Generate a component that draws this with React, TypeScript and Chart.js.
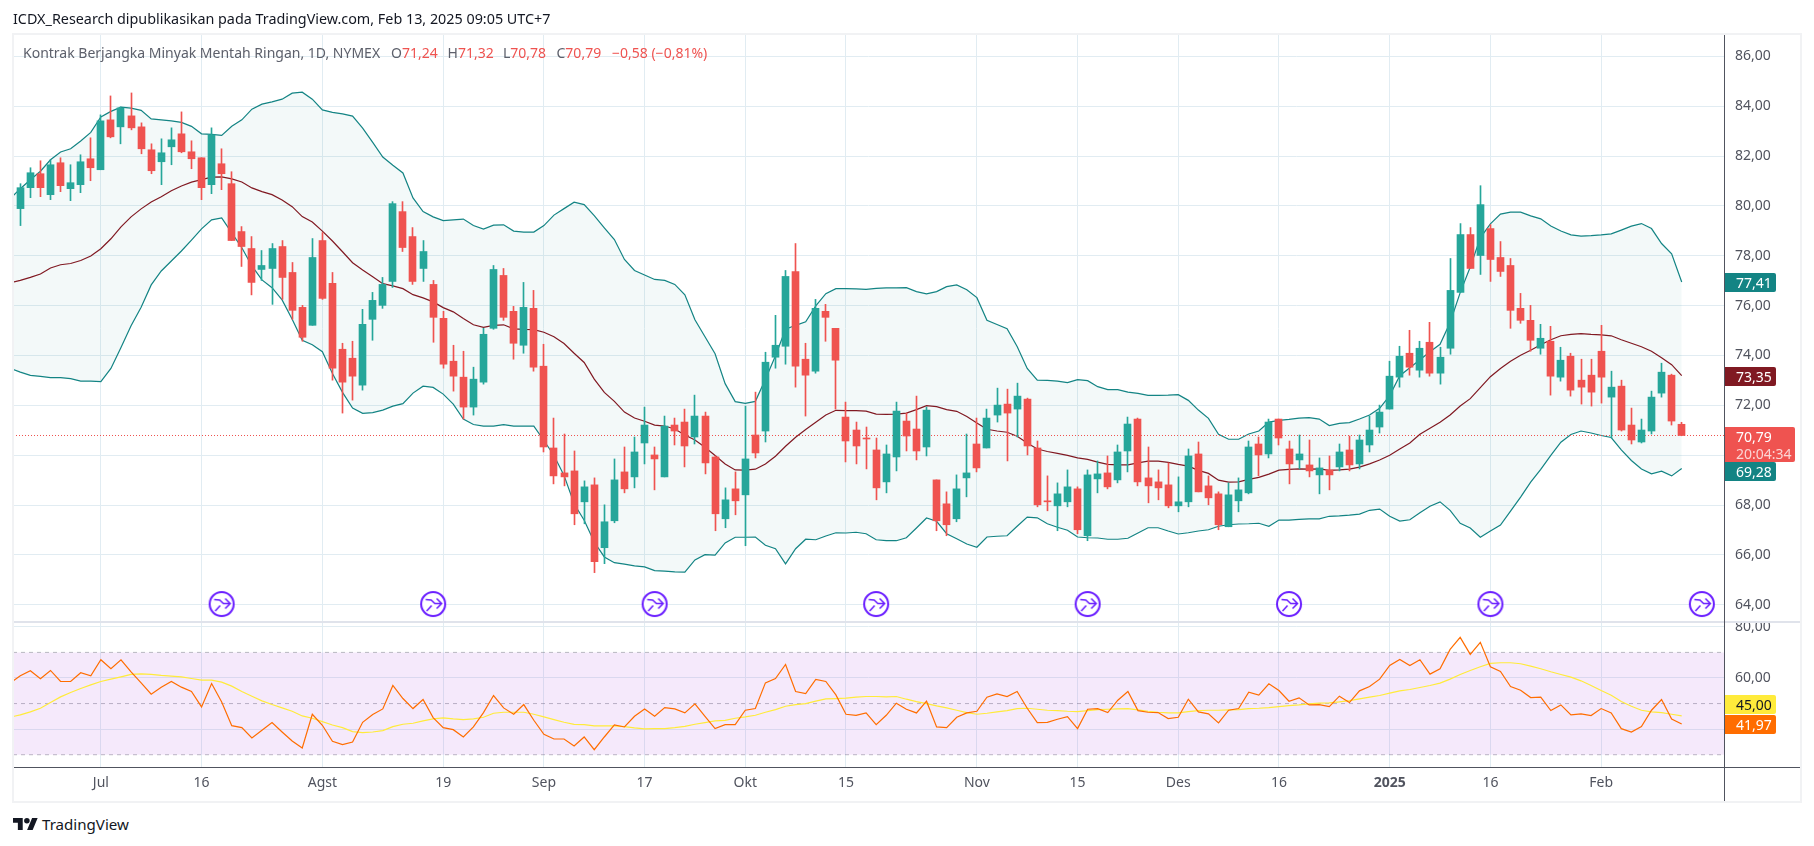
import { useEffect, useRef } from "react";
import { Chart, Plugin, registerables } from "chart.js";

Chart.register(...registerables);

const FONT = '"Noto Sans", sans-serif';
const GREEN = "#26a69a";
const RED = "#ef5350";
const GRID = "#e1ecf2";
const AXIS = "#50535e";
const TEXT = "#50535e";

// daily candles, index 0 is the first bar on screen
const opens = [
  79.89, 80.73, 81.29, 80.45, 81.73, 80.69, 80.85, 81.89, 81.45, 83.45,
  83.17, 83.61, 83.17, 82.25, 81.77, 82.37, 82.89, 82.17, 81.93, 80.85,
  81.69, 80.89, 78.97, 78.29, 77.45, 77.49, 78.37, 77.33, 75.93, 75.21,
  78.61, 76.89, 74.25, 73.89, 72.81, 75.45, 76.01, 76.97, 79.77, 78.77,
  77.49, 76.85, 75.49, 73.77, 73.13, 71.93, 72.93, 75.09, 77.21, 75.77,
  74.41, 75.89, 73.57, 70.29, 69.29, 69.37, 68.13, 68.81, 66.29, 67.37,
  69.33, 69.13, 70.49, 70.01, 69.13, 71.21, 71.33, 70.73, 71.57, 69.93,
  67.45, 68.65, 68.41, 70.81, 70.97, 73.93, 74.37, 77.37, 73.85, 73.37,
  75.77, 75.09, 71.53, 71.01, 70.69, 70.21, 68.93, 69.93, 71.37, 71.05,
  70.33, 69.01, 68.05, 67.45, 69.09, 70.45, 70.29, 71.61, 72.05, 71.85,
  72.25, 70.29, 68.17, 67.97, 68.13, 68.65, 66.77, 69.05, 69.29, 69.01,
  70.17, 71.45, 69.09, 68.93, 68.81, 67.97, 68.13, 70.05, 68.77, 68.45,
  67.13, 68.17, 68.49, 70.45, 70.05, 71.45, 70.25, 69.81, 69.61, 69.21,
  69.41, 69.53, 70.21, 69.65, 70.41, 71.13, 71.85, 73.13, 74.09, 73.41,
  74.53, 73.29, 74.29, 76.53, 78.85, 78.01, 79.09, 77.93, 77.61, 75.89,
  75.41, 74.29, 74.57, 73.13, 73.97, 73.01, 73.21, 74.17, 72.33, 72.77,
  71.21, 70.53, 70.97, 72.49, 73.21, 71.24,
];
const highs = [
  80.89, 81.53, 81.81, 81.85, 81.93, 81.65, 82.05, 82.73, 83.65, 84.41,
  83.97, 84.53, 83.33, 82.49, 82.69, 83.13, 83.77, 82.61, 81.93, 83.13,
  82.29, 81.37, 79.17, 78.77, 78.21, 78.49, 78.61, 77.73, 76.01, 78.69,
  78.93, 77.33, 74.49, 74.57, 75.85, 76.53, 77.13, 80.17, 80.17, 79.13,
  78.61, 77.01, 75.77, 74.41, 74.17, 73.53, 75.09, 77.61, 77.49, 75.97,
  76.93, 76.61, 74.45, 71.49, 70.85, 70.17, 68.97, 69.09, 68.01, 69.85,
  70.33, 70.73, 71.93, 70.33, 71.57, 71.49, 71.85, 72.41, 71.73, 69.97,
  68.69, 69.33, 71.97, 72.53, 74.13, 75.61, 77.41, 78.49, 74.49, 76.25,
  76.05, 75.09, 72.13, 71.33, 71.13, 70.69, 70.41, 72.13, 71.69, 72.37,
  71.93, 69.01, 68.53, 69.21, 70.85, 71.49, 71.85, 72.69, 72.65, 72.89,
  72.29, 70.57, 69.17, 68.89, 69.41, 68.73, 69.41, 69.77, 69.97, 70.41,
  71.53, 71.49, 70.33, 69.41, 69.69, 69.13, 70.25, 70.53, 69.17, 68.53,
  68.89, 69.09, 70.57, 70.73, 71.45, 71.45, 70.57, 70.81, 70.61, 69.89,
  69.97, 70.45, 70.77, 70.81, 71.57, 72.01, 73.77, 74.37, 75.01, 74.57,
  75.33, 74.33, 77.89, 79.29, 79.13, 80.81, 79.25, 78.57, 77.89, 76.49,
  76.01, 75.25, 75.17, 74.33, 74.09, 73.85, 73.85, 75.21, 73.37, 73.01,
  71.89, 71.45, 72.57, 73.69, 73.25, 71.32,
];
const lows = [
  79.21, 80.33, 80.37, 80.25, 80.57, 80.21, 80.53, 81.01, 81.45, 82.73,
  82.49, 83.05, 82.09, 81.29, 80.85, 81.65, 82.13, 81.49, 80.25, 80.49,
  80.65, 78.61, 77.57, 76.43, 77.01, 76.05, 76.25, 75.45, 74.57, 75.21,
  76.25, 73.01, 71.69, 72.21, 72.61, 74.61, 75.89, 76.73, 78.17, 76.85,
  76.97, 74.53, 73.49, 72.57, 71.45, 71.61, 72.85, 75.05, 75.41, 73.85,
  74.09, 73.37, 70.13, 68.85, 68.77, 67.21, 67.25, 65.29, 65.65, 67.29,
  68.49, 68.69, 69.65, 68.61, 69.13, 70.41, 69.53, 70.45, 69.25, 66.97,
  67.09, 67.61, 66.37, 69.89, 70.53, 73.49, 73.65, 72.73, 71.57, 73.29,
  74.57, 71.85, 69.73, 69.65, 69.45, 68.21, 68.49, 69.37, 70.17, 69.81,
  69.97, 66.97, 66.77, 67.33, 68.33, 69.33, 70.29, 71.33, 69.77, 70.73,
  70.01, 67.93, 67.77, 66.97, 67.93, 66.85, 66.57, 68.49, 68.65, 68.89,
  69.33, 68.77, 68.09, 68.21, 67.89, 67.73, 67.93, 68.53, 68.01, 67.01,
  67.13, 67.73, 68.45, 69.17, 69.89, 70.41, 68.85, 69.45, 69.13, 68.45,
  68.61, 69.37, 69.37, 69.45, 70.13, 70.89, 71.85, 72.73, 73.21, 73.13,
  73.17, 72.85, 74.05, 76.53, 77.49, 77.25, 76.97, 77.17, 75.09, 75.29,
  74.17, 74.05, 72.41, 72.97, 72.37, 72.05, 71.97, 72.09, 70.69, 70.97,
  70.45, 70.49, 70.85, 72.33, 71.21, 70.78,
];
const closes = [
  80.73, 81.33, 80.73, 81.65, 80.81, 80.93, 81.77, 81.53, 83.41, 82.77,
  83.93, 83.13, 82.29, 81.41, 82.13, 82.65, 82.17, 81.89, 80.73, 82.85,
  81.29, 78.61, 78.37, 76.93, 77.61, 78.29, 77.13, 75.81, 74.73, 77.93,
  76.29, 73.49, 72.93, 73.17, 75.25, 76.21, 76.85, 80.09, 78.33, 76.97,
  78.17, 75.53, 73.65, 73.17, 71.93, 73.05, 74.85, 77.45, 75.53, 74.49,
  75.93, 73.53, 70.33, 69.17, 69.13, 67.65, 68.73, 65.73, 67.33, 69.01,
  68.65, 70.13, 71.21, 69.85, 71.17, 70.97, 70.37, 71.57, 69.69, 67.65,
  68.21, 68.17, 69.85, 70.09, 73.73, 74.41, 77.17, 73.57, 73.21, 75.89,
  75.53, 73.81, 70.57, 70.37, 70.65, 68.69, 70.05, 71.77, 70.77, 70.17,
  71.81, 67.37, 67.21, 68.65, 69.29, 69.49, 71.49, 72.01, 71.69, 72.37,
  70.37, 68.01, 68.13, 68.45, 68.73, 67.01, 69.21, 69.25, 68.73, 70.13,
  71.25, 68.93, 68.77, 68.69, 67.97, 68.13, 69.97, 68.53, 68.29, 67.21,
  68.41, 68.61, 70.33, 70.01, 71.33, 70.69, 69.65, 70.05, 69.37, 69.49,
  69.21, 70.13, 69.61, 70.61, 71.01, 71.73, 73.17, 73.97, 73.53, 74.29,
  73.29, 73.93, 76.61, 78.85, 77.49, 80.05, 77.85, 77.37, 75.81, 75.41,
  74.61, 74.69, 73.17, 73.81, 72.61, 72.73, 72.53, 73.13, 72.73, 71.01,
  70.61, 71.01, 72.33, 73.33, 71.37, 70.79,
];

// indicator series start one bar earlier (index -1) so they run off the left edge
const bbUpper = [
  80.29, 80.69, 81.05, 81.39, 81.85, 82.16, 82.29, 82.6, 82.95, 83.57, 83.79,
  83.96, 83.92, 83.83, 83.49, 83.45, 83.41, 83.35, 83.19, 82.89, 82.87,
  82.83, 83.19, 83.45, 83.88, 84.08, 84.17, 84.28, 84.52, 84.56, 84.28,
  83.85, 83.75, 83.69, 83.6, 83.12, 82.55, 81.96, 81.63, 81.32, 80.32,
  79.77, 79.56, 79.41, 79.44, 79.47, 79.21, 79.07, 79.23, 79.24, 78.99,
  78.95, 78.95, 79.21, 79.63, 79.89, 80.15, 80.05, 79.61, 79.12, 78.65,
  77.85, 77.41, 77.23, 77.05, 77.01, 76.85, 76.43, 75.43, 74.75, 74.07,
  72.87, 72.15, 72.08, 72.16, 73.05, 73.99, 75.05, 75.21, 75.35, 75.99,
  76.48, 76.68, 76.68, 76.67, 76.65, 76.69, 76.71, 76.71, 76.72, 76.56,
  76.47, 76.56, 76.76, 76.83, 76.64, 76.32, 75.41, 75.24, 75.07, 74.36,
  73.48, 73.01, 73.0, 72.97, 72.91, 73.03, 72.99, 72.75, 72.63, 72.63,
  72.53, 72.48, 72.4, 72.4, 72.41, 72.43, 72.2, 71.81, 71.48, 70.84,
  70.64, 70.64, 70.85, 70.97, 71.33, 71.4, 71.44, 71.49, 71.51, 71.45,
  71.19, 71.28, 71.31, 71.45, 71.61, 71.88, 72.39, 73.19, 73.51, 73.83,
  74.15, 74.45, 75.32, 76.52, 77.55, 78.72, 79.28, 79.67, 79.75, 79.75,
  79.6, 79.48, 79.19, 78.99, 78.84, 78.79, 78.81, 78.84, 78.88, 79.03,
  79.19, 79.29, 79.09, 78.49, 78.08, 76.95,
];
const bbBasis = [
  76.92, 77.01, 77.13, 77.27, 77.51, 77.64, 77.69, 77.81, 77.99, 78.28, 78.68,
  79.16, 79.56, 79.88, 80.16, 80.37, 80.61, 80.8, 80.95, 81.05, 81.15,
  81.16, 81.08, 80.96, 80.72, 80.57, 80.45, 80.24, 79.97, 79.57, 79.35,
  78.99, 78.59, 78.16, 77.72, 77.43, 77.16, 76.88, 76.79, 76.68, 76.44,
  76.31, 76.15, 75.92, 75.75, 75.48, 75.23, 75.13, 75.21, 75.23, 75.07,
  75.05, 75.04, 74.93, 74.75, 74.48, 74.09, 73.72, 73.05, 72.52, 72.16,
  71.73, 71.49, 71.36, 71.21, 71.17, 71.05, 70.81, 70.61, 70.32, 69.99,
  69.65, 69.41, 69.4, 69.44, 69.65, 69.96, 70.36, 70.72, 71.03, 71.32,
  71.61, 71.8, 71.79, 71.79, 71.77, 71.65, 71.64, 71.65, 71.69, 71.83,
  71.99, 71.95, 71.83, 71.76, 71.55, 71.29, 71.04, 70.97, 70.92, 70.76,
  70.49, 70.25, 70.15, 70.07, 69.99, 69.89, 69.83, 69.72, 69.63, 69.61,
  69.61, 69.69, 69.76, 69.76, 69.71, 69.63, 69.56, 69.39, 69.27, 69.0,
  68.92, 68.93, 69.03, 69.11, 69.24, 69.4, 69.43, 69.45, 69.44, 69.45,
  69.39, 69.41, 69.44, 69.52, 69.65, 69.81, 70.0, 70.25, 70.49, 70.84,
  71.08, 71.32, 71.61, 71.97, 72.27, 72.71, 73.15, 73.48, 73.77, 74.01,
  74.21, 74.43, 74.63, 74.79, 74.85, 74.88, 74.85, 74.83, 74.79, 74.63,
  74.49, 74.35, 74.17, 73.91, 73.63, 73.19,
];
const bbLower = [
  73.48, 73.33, 73.2, 73.16, 73.11, 73.11, 73.07, 72.97, 72.97, 72.95, 73.48,
  74.32, 75.19, 75.93, 76.83, 77.39, 77.79, 78.19, 78.63, 79.08, 79.44,
  79.52, 78.92, 78.32, 77.59, 77.03, 76.72, 76.23, 75.45, 74.61, 74.43,
  74.15, 73.28, 72.52, 71.89, 71.68, 71.71, 71.81, 71.97, 72.07, 72.49,
  72.77, 72.72, 72.45, 72.05, 71.45, 71.23, 71.17, 71.17, 71.23, 71.17,
  71.17, 71.17, 70.59, 69.99, 69.19, 68.05, 67.39, 66.52, 65.92, 65.69,
  65.63, 65.56, 65.52, 65.37, 65.35, 65.32, 65.31, 65.8, 66.01, 65.99,
  66.48, 66.71, 66.71, 66.72, 66.39, 66.25, 65.64, 66.25, 66.63, 66.61,
  66.76, 66.89, 66.88, 66.91, 66.85, 66.61, 66.57, 66.57, 66.69, 67.08,
  67.48, 67.35, 66.85, 66.65, 66.44, 66.31, 66.72, 66.75, 66.77, 67.15,
  67.52, 67.49, 67.25, 67.11, 66.99, 66.72, 66.69, 66.68, 66.63, 66.63,
  66.67, 66.88, 67.09, 67.09, 66.96, 66.84, 66.89, 66.96, 67.01, 67.15,
  67.21, 67.24, 67.25, 67.27, 67.15, 67.4, 67.4, 67.43, 67.45, 67.45,
  67.55, 67.57, 67.6, 67.64, 67.79, 67.84, 67.55, 67.36, 67.41, 67.69,
  67.95, 68.13, 67.79, 67.27, 67.08, 66.71, 66.96, 67.2, 67.76, 68.32,
  68.92, 69.43, 69.99, 70.52, 70.83, 70.97, 70.89, 70.79, 70.71, 70.21,
  69.79, 69.45, 69.25, 69.36, 69.17, 69.47,
];
const rsi = [
  58.1, 60.85, 62.81, 59.67, 62.94, 58.63, 58.63, 62.03, 60.85, 67.12, 63.59,
  67.12, 62.42, 58.1, 53.66, 56.41, 58.63, 56.41, 54.71, 48.69, 57.84,
  50.65, 41.37, 40.59, 36.54, 39.54, 42.55, 38.89, 35.36, 32.61, 45.82,
  41.5, 35.23, 33.92, 34.97, 42.68, 45.69, 47.91, 57.06, 51.96, 48.04,
  51.57, 44.51, 40.59, 39.8, 36.93, 40.85, 46.47, 53.14, 48.3, 45.82,
  49.61, 43.46, 37.97, 36.14, 36.14, 33.4, 36.93, 31.96, 36.93, 41.63,
  40.85, 45.03, 47.91, 45.03, 48.43, 47.91, 46.34, 49.87, 45.03, 40.2,
  41.76, 41.76, 47.39, 48.04, 58.1, 59.8, 65.29, 54.71, 53.92, 59.41,
  58.63, 53.4, 45.82, 45.42, 46.34, 41.76, 45.42, 50.13, 47.78, 46.34,
  50.92, 40.85, 40.59, 44.64, 46.34, 47.0, 52.48, 53.79, 52.75, 54.71,
  48.17, 42.55, 42.68, 43.86, 44.9, 40.2, 47.78, 48.04, 46.47, 51.31,
  54.71, 47.25, 46.6, 46.47, 44.12, 44.64, 51.7, 46.73, 45.95, 42.42,
  47.39, 48.04, 54.44, 53.27, 57.71, 55.1, 50.92, 52.22, 49.48, 49.61,
  48.82, 52.88, 50.39, 54.97, 56.67, 59.54, 64.9, 67.25, 64.9, 67.12,
  61.5, 63.59, 71.18, 75.88, 69.22, 73.92, 64.38, 62.55, 56.67, 55.23,
  52.35, 52.48, 47.25, 49.48, 45.56, 45.95, 45.29, 48.04, 46.34, 40.2,
  38.89, 40.98, 47.39, 51.57, 43.99, 42.03,
];
const rsiMa = [
  44.7, 45.56, 46.73, 48.17, 50.39, 52.61, 54.31, 55.88, 57.32, 58.63, 59.54,
  60.46, 61.37, 61.63, 61.37, 60.98, 60.72, 60.46, 59.8, 59.15, 59.15,
  58.37, 56.8, 54.71, 52.88, 51.05, 49.61, 48.3, 46.99, 45.16, 44.25,
  42.94, 41.63, 40.59, 39.02, 38.63, 38.89, 39.41, 40.98, 41.9, 42.29,
  43.2, 43.99, 44.38, 43.99, 43.73, 43.99, 44.64, 46.21, 46.6, 46.6,
  46.6, 45.82, 44.77, 43.73, 42.68, 41.9, 41.76, 41.24, 41.24, 41.24,
  40.98, 40.46, 40.07, 40.2, 40.2, 40.59, 41.11, 41.9, 42.55, 43.2,
  43.46, 44.25, 44.77, 45.42, 46.6, 47.65, 48.95, 49.61, 50.0, 50.92,
  51.83, 51.96, 52.09, 52.48, 52.75, 52.75, 52.61, 52.75, 51.7, 50.78,
  50.0, 49.08, 48.3, 47.39, 46.47, 45.82, 46.21, 46.73, 47.25, 48.04,
  48.17, 47.78, 47.39, 47.25, 46.99, 46.86, 47.25, 47.65, 47.78, 47.91,
  48.04, 47.52, 46.99, 46.6, 46.34, 46.34, 46.86, 47.25, 47.39, 47.39,
  47.52, 47.65, 48.04, 48.17, 48.43, 48.82, 49.22, 49.48, 49.87, 50.13,
  50.26, 50.65, 51.18, 51.83, 52.48, 53.14, 54.05, 54.97, 55.49, 56.27,
  57.06, 57.97, 59.54, 61.37, 62.94, 64.38, 65.69, 65.95, 65.95, 65.56,
  64.64, 63.59, 62.42, 61.37, 60.33, 58.89, 57.06, 55.1, 53.27, 50.78,
  48.95, 47.39, 46.73, 46.47, 45.82, 45.16,
];

// time axis: bar index and label of each tick
const timeTickBars = [8, 18, 30, 42, 52, 62, 72, 82, 95, 105, 115, 125, 136, 146, 157];
const timeTickLabels = ["Jul", "16", "Agst", "19", "Sep", "17", "Okt", "15", "Nov", "15", "Des", "16", "2025", "16", "Feb"];
const priceTicks = [64, 66, 68, 70, 72, 74, 76, 78, 80, 82, 84, 86];
const rsiTicks = [40, 60, 80];
const rsiLevels = [70, 50, 30];
const rolloverBars = [20, 41, 63, 85, 106, 126, 146, 167];
const rolloverPrice = 64.03;

const X_MIN = -0.725;
const X_MAX = 169.2;
const PRICE_MIN = 63.31;
const PRICE_MAX = 86.854;
const RSI_MIN = 25.2;
const RSI_MAX = 81.88;

const fmt = (v: number) => v.toFixed(2).replace(".", ",");
const candleColors = closes.map((c, i) => (c >= opens[i] ? GREEN : RED));
const series = (values: number[]) => values.map((y, i) => ({ x: i - 1, y }));

// wicks and bodies sit on whole pixels like the original
const snapBars: Plugin = {
  id: "snapBars",
  afterDatasetsUpdate(chart) {
    chart.data.datasets.forEach((ds: any, i) => {
      if (ds.type) return;
      chart.getDatasetMeta(i).data.forEach((el: any) => {
        el.x = Math.floor(el.x) + 0.5;
      });
    });
  },
};

function rolloverIcon() {
  const c = document.createElement("canvas");
  c.width = 28;
  c.height = 28;
  const g = c.getContext("2d")!;
  g.strokeStyle = "#6a1eff";
  g.fillStyle = "#ffffff";
  g.lineWidth = 2;
  g.beginPath();
  g.arc(14, 14, 12, 0, Math.PI * 2);
  g.fill();
  g.stroke();
  g.lineWidth = 1.5;
  g.beginPath();
  g.moveTo(6.5, 9.5);
  g.lineTo(12, 10);
  g.lineTo(15.7, 13.5);
  g.lineTo(22.5, 13.5);
  g.moveTo(7.5, 21);
  g.lineTo(12.5, 15.5);
  g.moveTo(17.5, 8.5);
  g.lineTo(22.5, 13.5);
  g.lineTo(17.5, 18.5);
  g.stroke();
  return c;
}

function xScale(showLabels: boolean) {
  return {
    type: "linear" as const,
    min: X_MIN,
    max: X_MAX,
    offset: false,
    afterBuildTicks: (scale: any) => {
      scale.ticks = timeTickBars.map((value) => ({ value }));
    },
    afterFit: (scale: any) => {
      scale.height = showLabels ? 35 : 0;
      scale.paddingLeft = 0;
      scale.paddingRight = 0;
    },
    border: { display: false },
    grid: { color: GRID, offset: false, drawTicks: false, lineWidth: 1 },
    ticks: {
      display: showLabels,
      autoSkip: false,
      maxRotation: 0,
      padding: 8,
      color: TEXT,
      font: (ctx: any) => ({
        family: FONT,
        size: 14,
        weight: ctx.index === 12 ? "bold" : "normal",
      }),
      callback: (_v: any, i: number) => timeTickLabels[i],
    },
  };
}

function yScale(min: number, max: number, ticks: number[], hidden: number[] = []) {
  return {
    position: "right" as const,
    min,
    max,
    afterBuildTicks: (scale: any) => {
      scale.ticks = ticks.map((value) => ({ value }));
    },
    afterFit: (scale: any) => {
      scale.width = 90;
      scale.paddingTop = 0;
      scale.paddingBottom = 0;
    },
    border: { display: false },
    grid: { color: GRID, drawTicks: false, lineWidth: 1 },
    ticks: {
      autoSkip: false,
      padding: 11,
      color: TEXT,
      font: { family: FONT, size: 14 },
      callback: (v: any) => (hidden.includes(v) ? "" : fmt(v)),
    },
  };
}

function PriceChart() {
  const ref = useRef<HTMLCanvasElement>(null);

  useEffect(() => {
    if (!ref.current) return;
    const lineBase = { type: "line" as const, pointRadius: 0, tension: 0, fill: false };
    const chart = new Chart(ref.current, {
      type: "bar",
      plugins: [snapBars],
      data: {
        datasets: [
          {
            type: "scatter",
            data: rolloverBars.map((x) => ({ x, y: rolloverPrice })),
            pointStyle: rolloverIcon(),
            pointRadius: 14,
            clip: false,
          },
          {
            data: opens.map((o, i) => ({ x: i, y: [o, closes[i]] })),
            backgroundColor: candleColors,
            barThickness: 7,
            grouped: false,
          },
          {
            data: lows.map((l, i) => ({ x: i, y: [l, highs[i]] })),
            backgroundColor: candleColors,
            barThickness: 1,
            grouped: false,
          },
          {
            ...lineBase,
            data: [
              { x: X_MIN, y: closes[closes.length - 1] },
              { x: X_MAX, y: closes[closes.length - 1] },
            ],
            borderColor: RED,
            borderWidth: 1,
            borderDash: [1, 2],
          },
          { ...lineBase, data: series(bbBasis), borderColor: "#801922", borderWidth: 1.2 },
          {
            ...lineBase,
            data: series(bbUpper),
            borderColor: "#138484",
            borderWidth: 1.2,
            fill: "+1",
            backgroundColor: "rgba(19,132,132,0.05)",
          },
          { ...lineBase, data: series(bbLower), borderColor: "#138484", borderWidth: 1.2 },
        ] as any,
      },
      options: {
        responsive: false,
        animation: false,
        devicePixelRatio: 1,
        // the rollover icons must not push the plot area in
        layout: { autoPadding: false, padding: { left: 13, top: 35, right: 0, bottom: 0 } },
        plugins: { legend: { display: false }, tooltip: { enabled: false } },
        scales: {
          x: xScale(false),
          y: yScale(PRICE_MIN, PRICE_MAX, priceTicks),
        } as any,
      },
    });
    return () => chart.destroy();
  }, []);

  return <canvas ref={ref} width={1814} height={622} style={{ position: "absolute", left: 0, top: 0 }} />;
}

function RsiChart() {
  const ref = useRef<HTMLCanvasElement>(null);

  useEffect(() => {
    if (!ref.current) return;
    const lineBase = { type: "line" as const, pointRadius: 0, tension: 0, fill: false };
    const level = (y: number) => [
      { x: X_MIN, y },
      { x: X_MAX, y },
    ];
    const chart = new Chart(ref.current, {
      type: "line",
      data: {
        datasets: [
          { ...lineBase, data: series(rsi), borderColor: "#ff6d00", borderWidth: 1.2 },
          { ...lineBase, data: series(rsiMa), borderColor: "#ffeb3b", borderWidth: 1.2 },
          {
            ...lineBase,
            data: level(rsiLevels[0]),
            borderColor: "rgba(120,123,134,0.5)",
            borderWidth: 1,
            borderDash: [4, 4],
            fill: "+2",
            backgroundColor: "rgba(156,39,220,0.1)",
          },
          {
            ...lineBase,
            data: level(rsiLevels[1]),
            borderColor: "rgba(120,123,134,0.5)",
            borderWidth: 1,
            borderDash: [4, 4],
          },
          {
            ...lineBase,
            data: level(rsiLevels[2]),
            borderColor: "rgba(120,123,134,0.5)",
            borderWidth: 1,
            borderDash: [4, 4],
          },
        ] as any,
      },
      options: {
        responsive: false,
        animation: false,
        devicePixelRatio: 1,
        layout: { autoPadding: false, padding: { left: 13, top: 0, right: 0, bottom: 0 } },
        plugins: { legend: { display: false }, tooltip: { enabled: false } },
        scales: {
          x: xScale(true),
          y: yScale(RSI_MIN, RSI_MAX, rsiTicks, [40]),
        } as any,
      },
    });
    return () => chart.destroy();
  }, []);

  return <canvas ref={ref} width={1814} height={180} style={{ position: "absolute", left: 0, top: 622 }} />;
}

function Box({ l, t, w, h, c }: { l: number; t: number; w: number; h: number; c: string }) {
  return <div style={{ position: "absolute", left: l, top: t, width: w, height: h, background: c }} />;
}

function Tag({ t, h = 19, w = 51, bg, color = "#fff", lines }: { t: number; h?: number; w?: number; bg: string; color?: string; lines: string[] }) {
  return (
    <div
      style={{
        position: "absolute",
        left: 1725,
        top: t,
        width: w,
        height: h,
        background: bg,
        color,
        borderRadius: "0 2px 2px 0",
        fontSize: 14,
        lineHeight: "17px",
        paddingTop: 1,
        boxSizing: "border-box",
        textAlign: "left",
        paddingLeft: 11,
      }}
    >
      {lines.map((s, i) => (
        <div key={s} style={i ? { opacity: 0.75 } : undefined}>
          {s}
        </div>
      ))}
    </div>
  );
}

function Quote({ l, head, value }: { l: number; head: string; value: string }) {
  return (
    <div style={{ position: "absolute", left: l, top: 43, fontSize: 14, lineHeight: "20px", color: "#5d606b", whiteSpace: "pre" }}>
      {head}
      <span style={{ color: RED }}>{value}</span>
    </div>
  );
}

function Logo() {
  return (
    <svg width="25" height="12.5" viewBox="0 4 36 18" style={{ position: "absolute", left: 13, top: 817.5 }}>
      <path d="M14 22H7V11H0V4h14v18zM28 22h-8l7.5-18h8L28 22z" fill="#131722" />
      <circle cx="20" cy="8" r="4" fill="#131722" />
    </svg>
  );
}

export default function App() {
  return (
    <div style={{ position: "absolute", left: 0, top: 0, width: 1814, height: 846, overflow: "hidden", background: "#fff", fontFamily: FONT }}>
      <PriceChart />
      <RsiChart />

      {/* frame, pane separator and axis lines */}
      <Box l={12} t={33} w={1789} h={2} c="#f1f2f4" />
      <Box l={12} t={801} w={1789} h={2} c="#f1f2f4" />
      <Box l={12} t={33} w={2} h={770} c="#f1f2f4" />
      <Box l={1800} t={33} w={2} h={770} c="#f1f2f4" />
      <Box l={14} t={621} w={1786} h={2} c="#e0e3eb" />
      <Box l={1724} t={35} w={1} h={766} c={AXIS} />
      <Box l={14} t={767} w={1786} h={1} c={AXIS} />

      <div style={{ position: "absolute", left: 13, top: 9, fontSize: 14.35, lineHeight: "20px", color: "#131722", whiteSpace: "nowrap" }}>
        ICDX_Research dipublikasikan pada TradingView.com, Feb 13, 2025 09:05 UTC+7
      </div>
      <Quote l={23} head="Kontrak Berjangka Minyak Mentah Ringan, 1D, NYMEX" value="" />
      <Quote l={391} head="O" value="71,24" />
      <Quote l={447.5} head="H" value="71,32" />
      <Quote l={503} head="L" value="70,78" />
      <Quote l={556.5} head="C" value="70,79" />
      <Quote l={612} head="" value={"\u22120,58 (\u22120,81%)"} />

      <Tag t={273} bg="#138484" lines={["77,41"]} />
      <Tag t={367} bg="#801922" lines={["73,35"]} />
      <Tag t={427} h={35} w={70} bg={RED} lines={["70,79", "20:04:34"]} />
      <Tag t={462} bg="#138484" lines={["69,28"]} />
      <Tag t={695} bg="#ffeb3b" color="#131722" lines={["45,00"]} />
      <Tag t={715} bg="#ff6d00" lines={["41,97"]} />

      <Logo />
      <div style={{ position: "absolute", left: 42, top: 814, fontSize: 15.1, lineHeight: "20px", color: "#131722" }}>TradingView</div>
    </div>
  );
}
